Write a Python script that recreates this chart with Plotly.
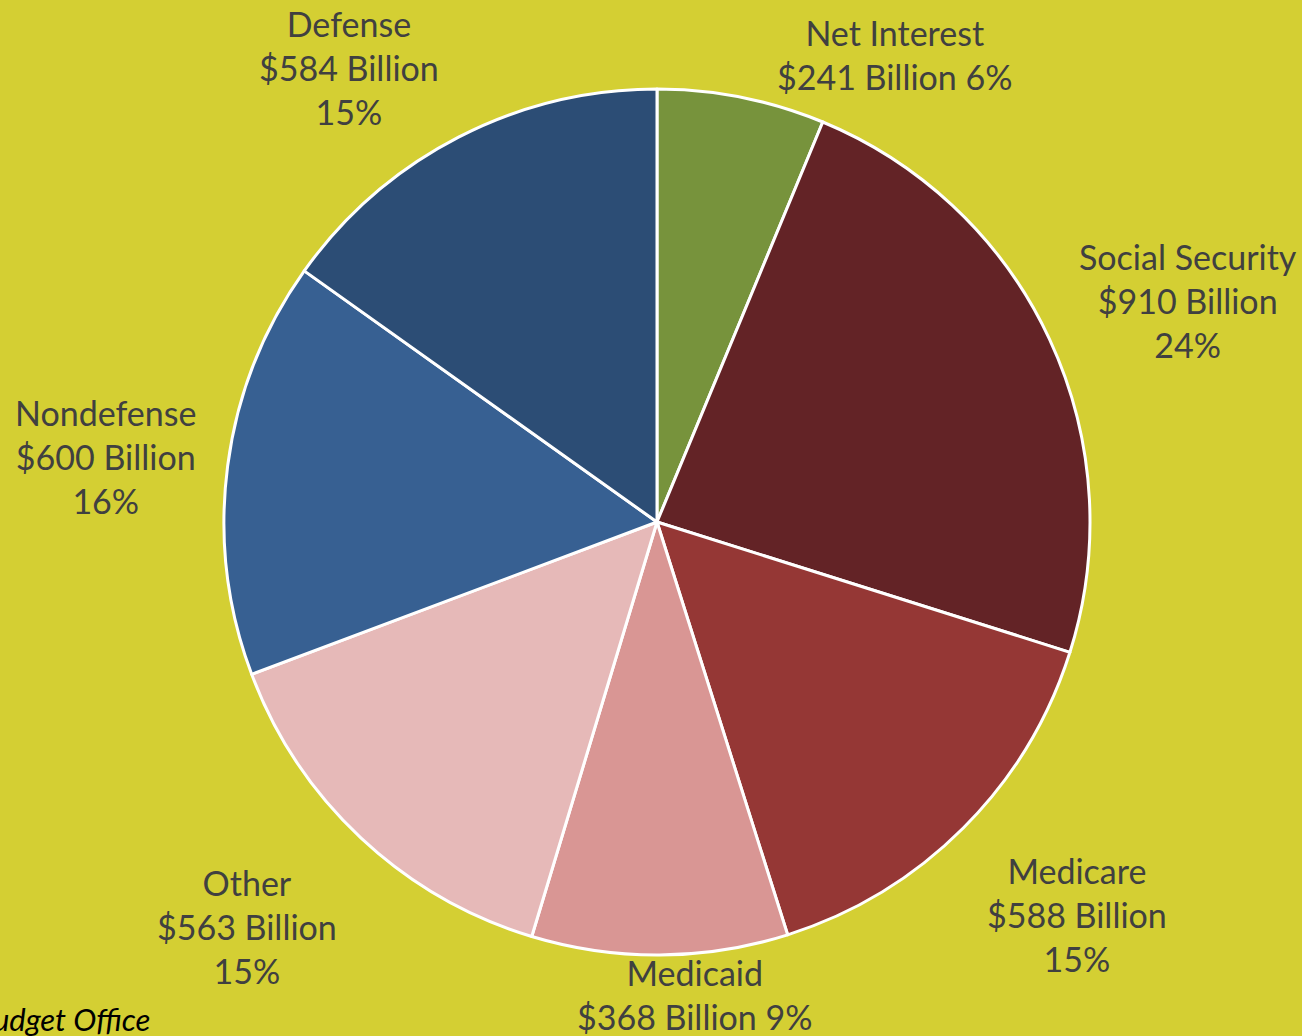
import plotly.graph_objects as go

categories = ["Net Interest", "Social Security", "Medicare", "Medicaid", "Other", "Nondefense", "Defense"]
values = [241, 910, 588, 368, 563, 600, 584]
percents = [6, 24, 15, 9, 15, 16, 15]
colors = ["#77933C", "#632326", "#953735", "#D99694", "#E6B9B8", "#376092", "#2C4D75"]

# label layout (pixel centres in the 1302x1036 canvas) and line style
label_pos = {
    "Net Interest": (895, 55, False),
    "Social Security": (1188, 300, True),
    "Medicare": (1077, 914, True),
    "Medicaid": (695, 994, False),
    "Other": (247, 926, True),
    "Nondefense": (105, 456, True),
    "Defense": (349, 67, True),
}

W, H = 1302, 1036
cx, cy, r = 657, 522, 433

fig = go.Figure(go.Pie(
    labels=categories,
    values=values,
    sort=False,
    direction="clockwise",
    rotation=0,
    marker=dict(colors=colors, line=dict(color="white", width=3)),
    textinfo="none",
    hoverinfo="label+value+percent",
    showlegend=False,
    domain=dict(x=[(cx - r) / W, (cx + r) / W], y=[(H - cy - r) / H, (H - cy + r) / H]),
))

annotations = []
for name, val, pct in zip(categories, values, percents):
    x, y, three = label_pos[name]
    sep = "<br>" if three else " "
    text = f"{name}<br>${val} Billion{sep}{pct}%"
    annotations.append(dict(
        x=x / W, y=1 - y / H, xref="paper", yref="paper",
        text=text, showarrow=False, xanchor="center", yanchor="middle",
        align="center", font=dict(family="Lato", size=34, color="#404040"),
    ))

annotations.append(dict(
    x=152 / W, y=1 - 1019 / H, xref="paper", yref="paper",
    text="<i>Source: Congressional Budget Office</i>", showarrow=False,
    xanchor="right", yanchor="middle",
    font=dict(family="Lato", size=31, color="#000000"),
))

fig.update_layout(
    width=W, height=H,
    margin=dict(l=0, r=0, t=0, b=0),
    paper_bgcolor="#D4CF33",
    plot_bgcolor="#D4CF33",
    annotations=annotations,
)

fig.write_html(
    "out.html",
    config={"displayModeBar": False},
    post_script="document.body.style.margin='0';document.body.style.overflow='hidden';",
)
